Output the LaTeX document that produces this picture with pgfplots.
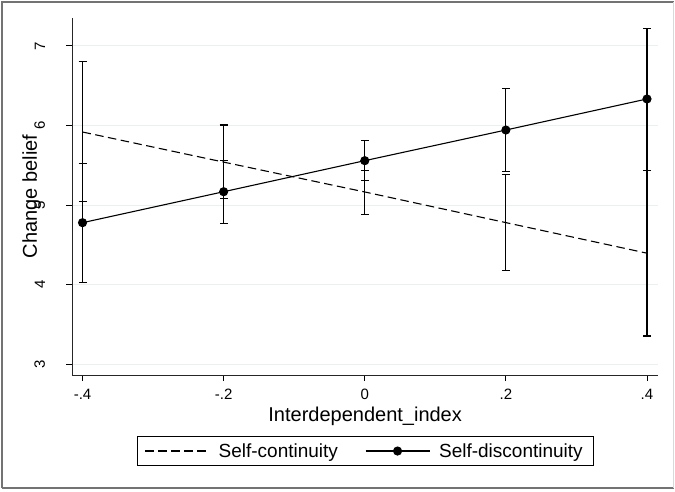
\documentclass[border=0pt]{standalone}
\usepackage{graphicx}
\usepackage{pgfplots}
\pgfplotsset{compat=1.18}
\usepackage{fontspec}
\setmainfont{Liberation Sans}
\definecolor{gridc}{RGB}{232,240,242}
\newcommand{\ry}[1]{\rotatebox{90}{#1}}
\pgfplotsset{ciplot/.style={
  error bars/y dir=both, error bars/y explicit,
  error bars/error bar style={solid, line width=1.1pt, black},
  error bars/error mark options={solid, rotate=90, mark size=4pt, line width=1.1pt, black}}}
\begin{document}
\begin{tikzpicture}
\begin{axis}[
  at={(72.3pt,116pt)}, anchor=south west,
  scale only axis, width=585.7pt, height=357pt,
  xmin=-0.4145, xmax=0.4156, ymin=2.866, ymax=7.35,
  axis x line*=bottom, axis y line*=left,
  axis line style={line width=1pt, black!85},
  xtick={-0.4,-0.2,0,0.2,0.4}, xticklabels={{-.4},{-.2},{0},{.2},{.4}},
  ytick={3,4,5,6,7}, yticklabels={\ry{3},\ry{4},\ry{5},\ry{6},\ry{7}},
  tick align=outside, major tick length=6pt,
  tick style={line width=0.9pt, black},
  ymajorgrids, grid style={gridc, line width=1pt},
  ticklabel style={font=\fontsize{15}{18}\selectfont},
  xticklabel style={anchor=base, yshift=-18pt},
  yticklabel style={anchor=east, inner sep=0pt, xshift=-21pt},
  xlabel={Interdependent\_index},
  xlabel style={at={(axis description cs:0.5,0)}, anchor=base, yshift=-46pt, font=\fontsize{20}{24}\selectfont},
  ylabel={Change belief},
  ylabel style={at={(axis description cs:-0.0603,0.5)}, anchor=base, font=\fontsize{20}{24}\selectfont},
  legend columns=2,
  legend image code/.code={\draw[mark repeat=2,mark phase=2,#1] plot coordinates {(0pt,0pt) (32pt,0pt) (64pt,0pt)};},
  legend style={at={(axis description cs:0.5,0)}, anchor=north, yshift=-61pt,
    draw=black, line width=0.8pt, font=\fontsize{19}{22}\selectfont,
    inner xsep=7.5pt, inner ysep=4pt,
    nodes={inner sep=3pt},
    /tikz/every odd column/.append style={column sep=6pt},
    /tikz/every even column/.append style={column sep=24pt}},
]
\addplot[black, line width=1.1pt, dash pattern=on 8.5pt off 4.5pt, no marks, ciplot] coordinates {
  (-0.4,5.918) += (0,0.889) -= (0,0.868)
  (-0.2,5.540) += (0,0.466) -= (0,0.460)
  (0,5.165)    += (0,0.275) -= (0,0.281)
  (0.2,4.780)  += (0,0.602) -= (0,0.604)
  (0.4,4.396)  += (0,1.044) -= (0,1.040)
};
\addlegendentry{Self-continuity}
\addplot[black, line width=1.1pt, mark=*, mark size=4pt, mark options={solid}, ciplot] coordinates {
  (-0.4,4.779) += (0,0.746) -= (0,0.749)
  (-0.2,5.168) += (0,0.395) -= (0,0.402)
  (0,5.558)    += (0,0.251) -= (0,0.251)
  (0.2,5.943)  += (0,0.519) -= (0,0.518)
  (0.4,6.333)  += (0,0.890) -= (0,0.893)
};
\addlegendentry{Self-discontinuity}
\end{axis}
\draw[black!55, line width=1.2pt] (2pt,3pt) -- (2pt,489pt) -- (673.5pt,489pt);
\draw[black!55, line width=1.2pt] (2pt,3pt) -- (673.5pt,3pt);
\draw[black!15, line width=1.2pt] (673.5pt,3pt) -- (673.5pt,489pt);
\pgfresetboundingbox
\path (0,0) rectangle (675pt,491pt);
\end{tikzpicture}
\end{document}
